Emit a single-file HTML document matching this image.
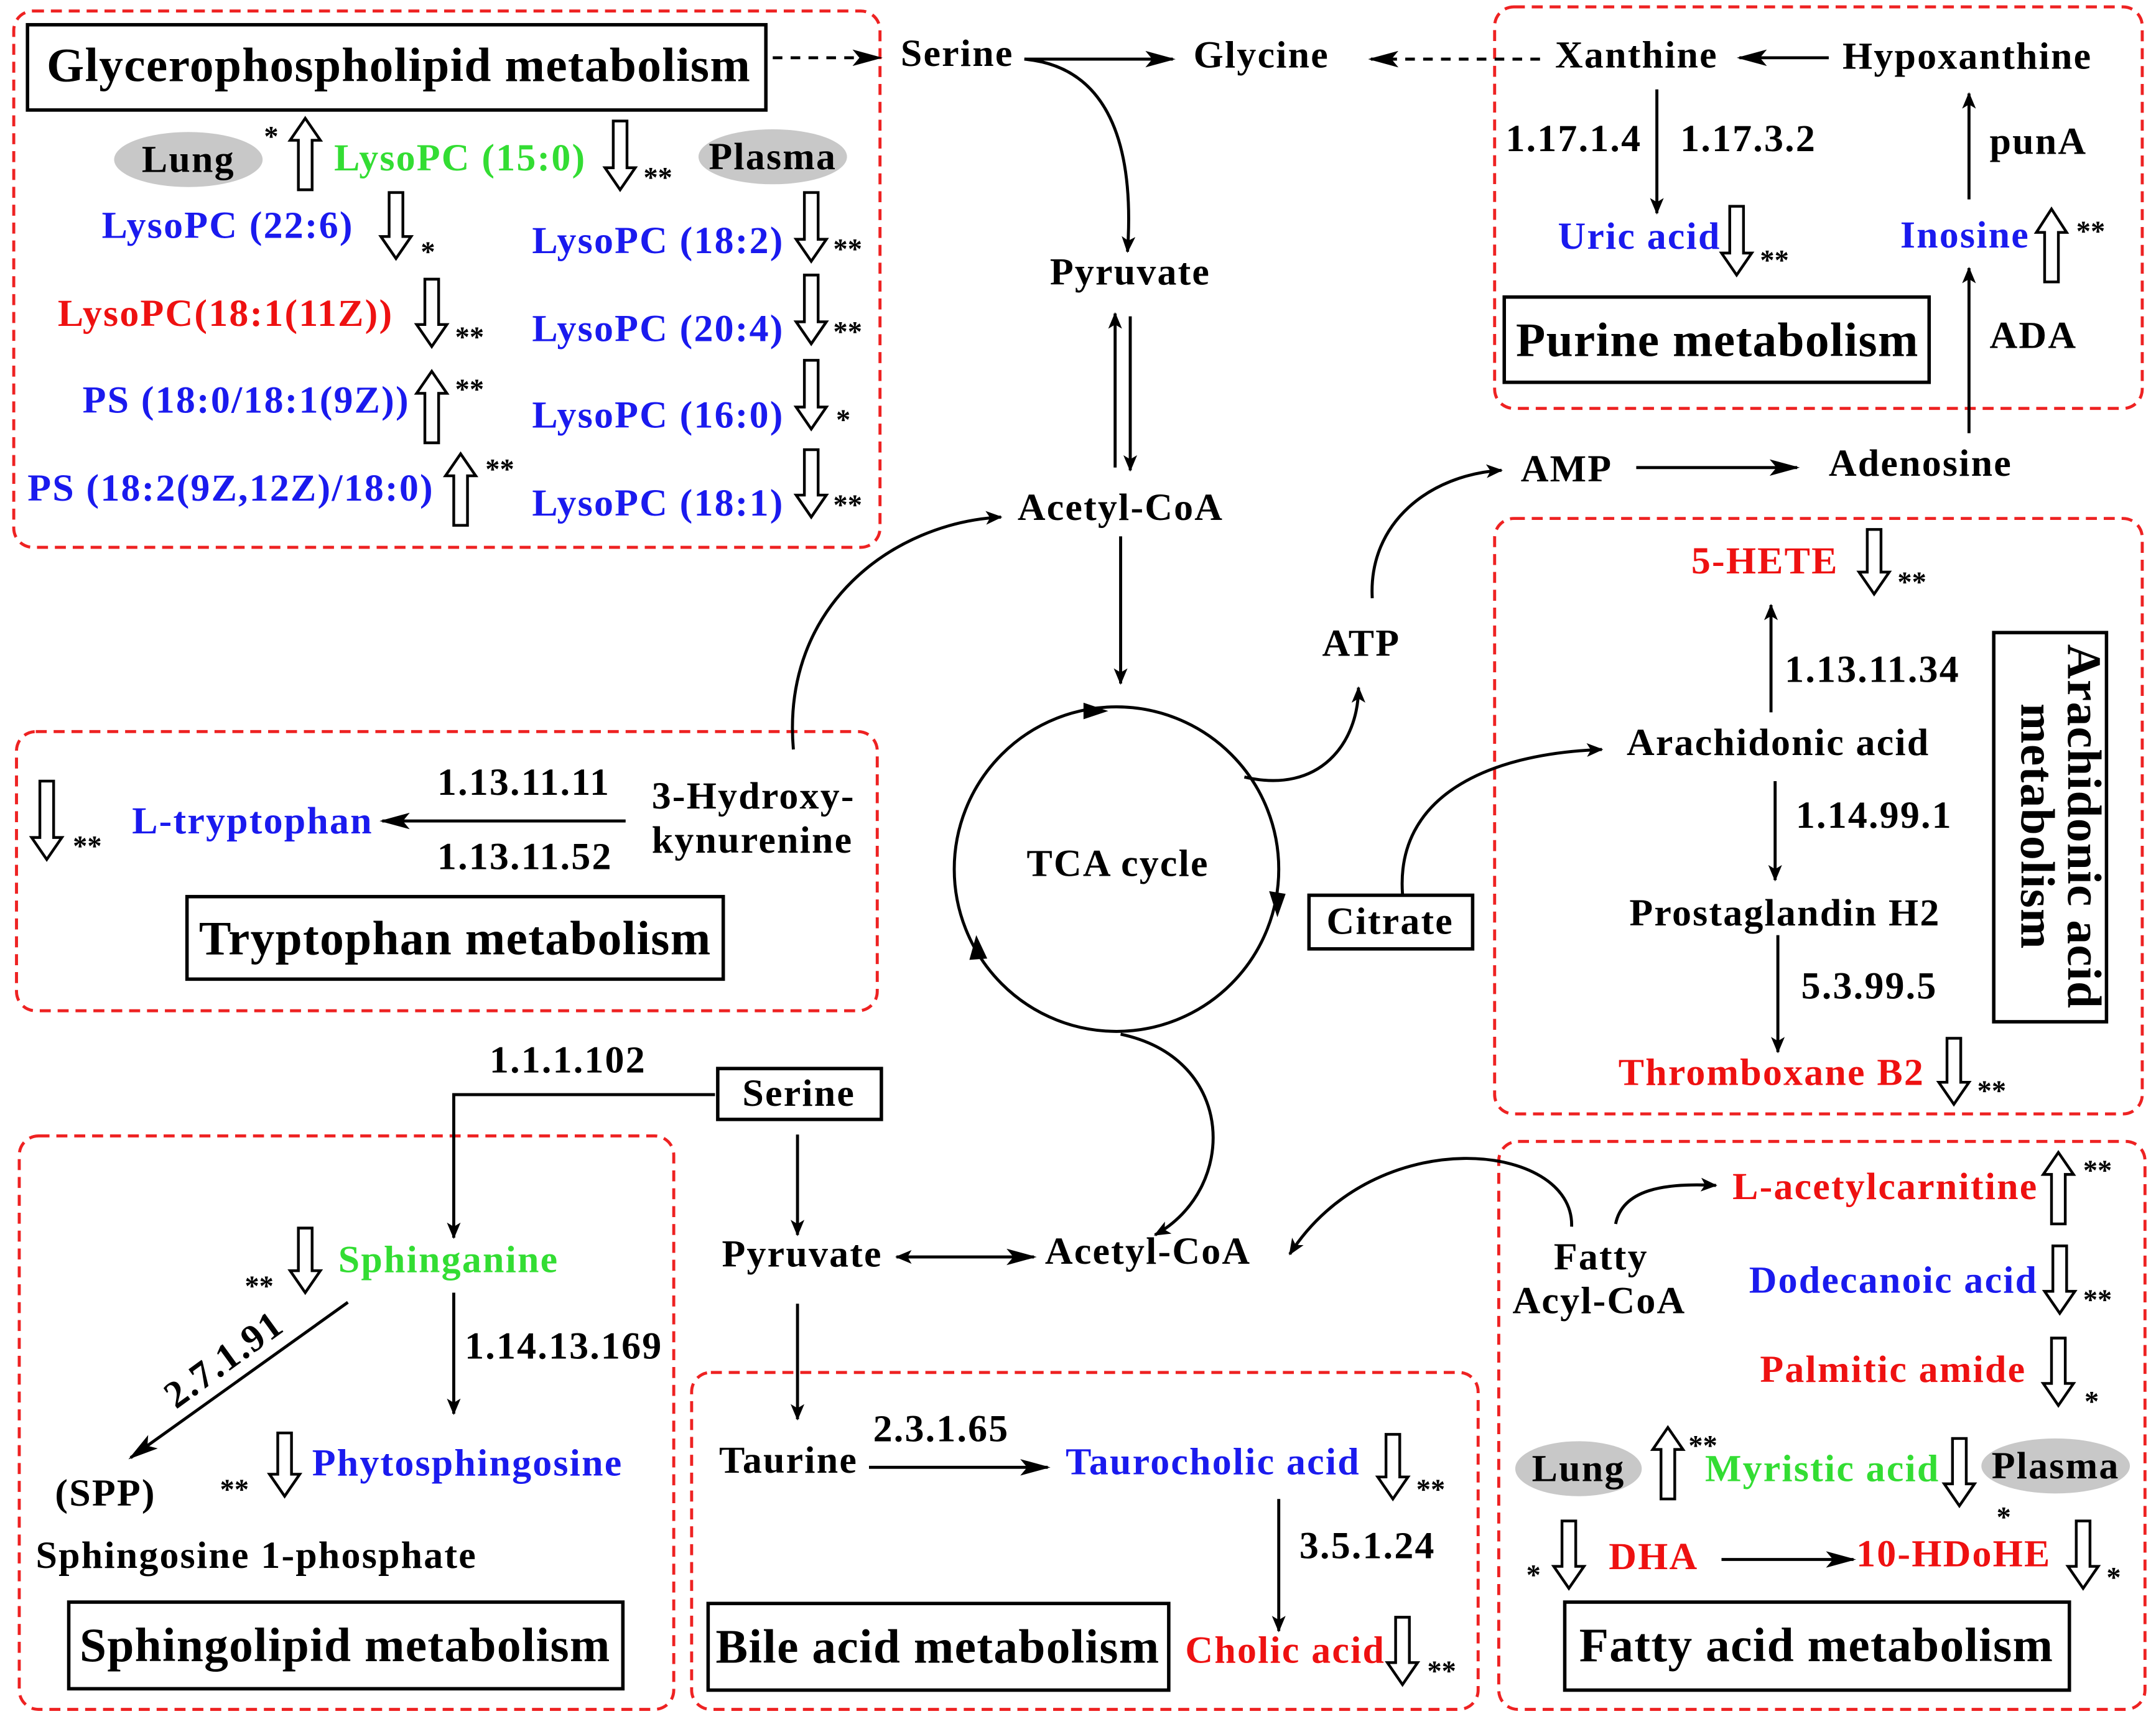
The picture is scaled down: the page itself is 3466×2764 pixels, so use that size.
<!DOCTYPE html>
<html><head><meta charset="utf-8"><style>
html,body{margin:0;padding:0;background:#fff;}
svg{display:block;}
text{font-family:"Liberation Serif",serif;font-weight:bold;font-size:28px;letter-spacing:1px;fill:#000;}
.t{font-size:35px;letter-spacing:0.6px;}
.r{fill:#ee1111;} .b{fill:#1a1aee;} .g{fill:#33dd33;}
.s{font-size:21px;letter-spacing:0;}
.rb{fill:none;stroke:#ee2222;stroke-width:2.2;stroke-dasharray:8,5;}
.bb{fill:#fff;stroke:#000;stroke-width:2.5;}
.ln{fill:none;stroke:#000;stroke-width:2.2;}
.ha{fill:#fff;stroke:#000;stroke-width:2;}
</style></head><body>
<svg width="3466" height="2764" viewBox="0 0 1568 1250" preserveAspectRatio="none" xmlns="http://www.w3.org/2000/svg">
<defs>
<marker id="a" markerWidth="12" markerHeight="10" refX="11" refY="5" orient="auto" markerUnits="userSpaceOnUse" viewBox="0 0 12 10"><path d="M0,0 L12,5 L0,10 L3,5 Z" fill="#000"/></marker>
<marker id="ab" markerWidth="12" markerHeight="10" refX="1" refY="5" orient="auto" markerUnits="userSpaceOnUse" viewBox="0 0 12 10"><path d="M12,0 L0,5 L12,10 L9,5 Z" fill="#000"/></marker>
<marker id="ba" markerWidth="22" markerHeight="12" refX="20" refY="6" orient="auto" markerUnits="userSpaceOnUse" viewBox="0 0 22 12"><path d="M0,0 L22,6 L0,12 L5,6 Z" fill="#000"/></marker>
</defs>

<!-- red dashed boxes -->
<rect class="rb" x="10" y="8" width="630" height="390" rx="14"/>
<rect class="rb" x="1087" y="5" width="471" height="292" rx="14"/>
<rect class="rb" x="12" y="532" width="626" height="203" rx="14"/>
<rect class="rb" x="1087" y="377" width="471" height="433" rx="14"/>
<rect class="rb" x="14" y="826" width="476" height="417" rx="14"/>
<rect class="rb" x="503" y="998" width="572" height="245" rx="14"/>
<rect class="rb" x="1090" y="830" width="470" height="413" rx="14"/>

<!-- black boxes -->
<rect class="bb" x="20" y="18" width="537" height="62"/><text class="t" x="290" y="59" text-anchor="middle">Glycerophospholipid metabolism</text>
<rect class="bb" x="1094" y="216" width="309" height="62"/><text class="t" x="1249" y="259" text-anchor="middle">Purine metabolism</text>
<rect class="bb" x="136" y="652" width="390" height="60"/><text class="t" x="331" y="694" text-anchor="middle">Tryptophan metabolism</text>
<rect class="bb" x="1450" y="460" width="82" height="283"/>
<text class="t" transform="translate(1504,601) rotate(90)" text-anchor="middle">Arachidonic acid</text>
<text class="t" transform="translate(1470,601) rotate(90)" text-anchor="middle">metabolism</text>
<rect class="bb" x="952" y="651" width="119" height="39"/><text x="1011" y="679" text-anchor="middle">Citrate</text>
<rect class="bb" x="522" y="777" width="119" height="37"/><text x="581" y="804" text-anchor="middle">Serine</text>
<rect class="bb" x="50" y="1165" width="403" height="63"/><text class="t" x="251" y="1208" text-anchor="middle">Sphingolipid metabolism</text>
<rect class="bb" x="515" y="1166" width="335" height="63"/><text class="t" x="682" y="1209" text-anchor="middle">Bile acid metabolism</text>
<rect class="bb" x="1138" y="1165" width="367" height="64"/><text class="t" x="1321" y="1208" text-anchor="middle">Fatty acid metabolism</text>

<!-- Glycerophospholipid content -->
<ellipse cx="137" cy="116" rx="54" ry="20" fill="#c8c8c8"/><text x="137" y="125" text-anchor="middle">Lung</text>
<ellipse cx="562" cy="114" rx="54" ry="20" fill="#c8c8c8"/><text x="562" y="123" text-anchor="middle">Plasma</text>
<text class="s" x="192" y="106">*</text>
<path class="ha" d="M217,138 L227,138 L227,102 L233,102 L222,86 L211,102 L217,102 Z"/>
<text class="g" x="243" y="124">LysoPC (15:0)</text>
<path class="ha" d="M446,88 L456,88 L456,122 L462,122 L451,138 L440,122 L446,122 Z"/><text class="s" x="468" y="136">**</text>
<text class="b" x="74" y="173">LysoPC (22:6)</text>
<path class="ha" d="M283,140 L293,140 L293,172 L299,172 L288,188 L277,172 L283,172 Z"/><text class="s" x="306" y="190">*</text>
<text class="b" x="387" y="184">LysoPC (18:2)</text>
<path class="ha" d="M585,140 L595,140 L595,174 L601,174 L590,190 L579,174 L585,174 Z"/><text class="s" x="606" y="188">**</text>
<text class="r" x="42" y="237">LysoPC(18:1(11Z))</text>
<path class="ha" d="M309,203 L319,203 L319,236 L325,236 L314,252 L303,236 L309,236 Z"/><text class="s" x="331" y="252">**</text>
<text class="b" x="387" y="248">LysoPC (20:4)</text>
<path class="ha" d="M585,200 L595,200 L595,234 L601,234 L590,250 L579,234 L585,234 Z"/><text class="s" x="606" y="248">**</text>
<text class="b" x="60" y="300">PS (18:0/18:1(9Z))</text>
<path class="ha" d="M309,322 L319,322 L319,286 L325,286 L314,270 L303,286 L309,286 Z"/><text class="s" x="331" y="290">**</text>
<text class="b" x="387" y="311">LysoPC (16:0)</text>
<path class="ha" d="M585,262 L595,262 L595,296 L601,296 L590,312 L579,296 L585,296 Z"/><text class="s" x="608" y="312">*</text>
<text class="b" x="20" y="364">PS (18:2(9Z,12Z)/18:0)</text>
<path class="ha" d="M330,382 L340,382 L340,346 L346,346 L335,330 L324,346 L330,346 Z"/><text class="s" x="353" y="348">**</text>
<text class="b" x="387" y="375">LysoPC (18:1)</text>
<path class="ha" d="M585,327 L595,327 L595,360 L601,360 L590,376 L579,360 L585,360 Z"/><text class="s" x="606" y="374">**</text>

<!-- Top row -->
<line class="ln" x1="562" y1="42" x2="640" y2="42" stroke-dasharray="7,6" marker-end="url(#ba)"/>
<text x="655" y="48">Serine</text>
<line class="ln" x1="745" y1="43" x2="853" y2="43" marker-end="url(#ba)"/>
<text x="868" y="49">Glycine</text>
<line class="ln" x1="1120" y1="43" x2="997" y2="43" stroke-dasharray="7,6" marker-end="url(#ba)"/>
<text x="1131" y="49">Xanthine</text>
<line class="ln" x1="1330" y1="42" x2="1265" y2="42" marker-end="url(#ba)"/>
<text x="1340" y="50">Hypoxanthine</text>
<path class="ln" d="M745,43 C800,48 826,95 820,183" marker-end="url(#a)"/>
<text x="822" y="207" text-anchor="middle">Pyruvate</text>
<line class="ln" x1="811" y1="340" x2="811" y2="228" marker-end="url(#a)"/>
<line class="ln" x1="822" y1="230" x2="822" y2="342" marker-end="url(#a)"/>
<text x="815" y="378" text-anchor="middle">Acetyl-CoA</text>
<line class="ln" x1="815" y1="390" x2="815" y2="497" marker-end="url(#a)"/>
<circle cx="812" cy="632" r="118" class="ln"/>
<path d="M788,511 L806,517 L788,523 Z" fill="#000"/>
<path d="M923,648 L929,667 L935,650 Z" fill="#000"/>
<path d="M705,698 L710,680 L718,697 Z" fill="#000"/>
<text x="813" y="637" text-anchor="middle">TCA cycle</text>
<path class="ln" d="M577,545 C568,440 650,380 728,376" marker-end="url(#a)"/>
<path class="ln" d="M905,565 C960,578 988,540 988,500" marker-end="url(#a)"/>
<text x="990" y="477" text-anchor="middle">ATP</text>
<path class="ln" d="M998,435 C995,380 1040,345 1092,342" marker-end="url(#a)"/>
<text x="1106" y="350">AMP</text>
<line class="ln" x1="1190" y1="340" x2="1307" y2="340" marker-end="url(#ba)"/>
<text x="1330" y="346">Adenosine</text>

<!-- Purine -->
<line class="ln" x1="1432" y1="315" x2="1432" y2="195" marker-end="url(#a)"/>
<text x="1447" y="253">ADA</text>
<text class="b" x="1382" y="180">Inosine</text>
<path class="ha" d="M1487,205 L1497,205 L1497,169 L1503,169 L1492,152 L1481,169 L1487,169 Z"/><text class="s" x="1510" y="175">**</text>
<line class="ln" x1="1432" y1="145" x2="1432" y2="68" marker-end="url(#a)"/>
<text x="1447" y="112">punA</text>
<line class="ln" x1="1205" y1="65" x2="1205" y2="155" marker-end="url(#a)"/>
<text x="1095" y="110">1.17.1.4</text>
<text x="1222" y="110">1.17.3.2</text>
<text class="b" x="1133" y="181">Uric acid</text>
<path class="ha" d="M1258,150 L1268,150 L1268,184 L1274,184 L1263,200 L1252,184 L1258,184 Z"/><text class="s" x="1280" y="196">**</text>

<!-- Arachidonic -->
<text class="r" x="1230" y="417">5-HETE</text>
<path class="ha" d="M1358,385 L1368,385 L1368,416 L1374,416 L1363,432 L1352,416 L1358,416 Z"/><text class="s" x="1380" y="430">**</text>
<line class="ln" x1="1288" y1="518" x2="1288" y2="440" marker-end="url(#a)"/>
<text x="1298" y="496">1.13.11.34</text>
<text x="1183" y="549">Arachidonic acid</text>
<line class="ln" x1="1291" y1="568" x2="1291" y2="640" marker-end="url(#a)"/>
<text x="1306" y="602">1.14.99.1</text>
<text x="1185" y="673">Prostaglandin H2</text>
<line class="ln" x1="1293" y1="680" x2="1293" y2="765" marker-end="url(#a)"/>
<text x="1310" y="726">5.3.99.5</text>
<text class="r" x="1177" y="789">Thromboxane B2</text>
<path class="ha" d="M1416,755 L1426,755 L1426,787 L1432,787 L1421,803 L1410,787 L1416,787 Z"/><text class="s" x="1438" y="800">**</text>
<path class="ln" d="M1020,650 C1015,580 1080,548 1165,545" marker-end="url(#a)"/>

<!-- Tryptophan -->
<path class="ha" d="M29,568 L39,568 L39,609 L45,609 L34,625 L23,609 L29,609 Z"/><text class="s" x="53" y="622">**</text>
<text class="b" x="96" y="606">L-tryptophan</text>
<line class="ln" x1="455" y1="597" x2="278" y2="597" marker-end="url(#ba)"/>
<text x="318" y="578">1.13.11.11</text>
<text x="318" y="632">1.13.11.52</text>
<text x="474" y="588">3-Hydroxy-</text>
<text x="474" y="620">kynurenine</text>

<!-- Sphingolipid -->
<text x="356" y="780">1.1.1.102</text>
<path class="ln" d="M520,796 L330,796 L330,900" marker-end="url(#a)"/>
<text class="s" x="178" y="942">**</text>
<path class="ha" d="M217,893 L227,893 L227,924 L233,924 L222,940 L211,924 L217,924 Z"/>
<text class="g" x="246" y="925">Sphinganine</text>
<line class="ln" x1="330" y1="940" x2="330" y2="1028" marker-end="url(#a)"/>
<text x="338" y="988">1.14.13.169</text>
<line class="ln" x1="253" y1="947" x2="95" y2="1060" marker-end="url(#ba)"/>
<text transform="translate(128,1025) rotate(-36)">2.7.1.91</text>
<text x="40" y="1095">(SPP)</text>
<text x="26" y="1140">Sphingosine 1-phosphate</text>
<text class="s" x="160" y="1090">**</text>
<path class="ha" d="M202,1042 L212,1042 L212,1072 L218,1072 L207,1088 L196,1072 L202,1072 Z"/>
<text class="b" x="227" y="1073">Phytosphingosine</text>

<!-- Center lower -->
<line class="ln" x1="580" y1="825" x2="580" y2="898" marker-end="url(#a)"/>
<text x="525" y="921">Pyruvate</text>
<line class="ln" x1="652" y1="914" x2="752" y2="914" marker-start="url(#ab)" marker-end="url(#ba)"/>
<text x="760" y="919">Acetyl-CoA</text>
<path class="ln" d="M815,752 C900,770 900,865 840,898" marker-end="url(#a)"/>
<line class="ln" x1="580" y1="948" x2="580" y2="1032" marker-end="url(#a)"/>
<text x="523" y="1071">Taurine</text>
<line class="ln" x1="632" y1="1067" x2="762" y2="1067" marker-end="url(#ba)"/>
<text x="635" y="1048">2.3.1.65</text>
<text class="b" x="775" y="1072">Taurocholic acid</text>
<path class="ha" d="M1008,1043 L1018,1043 L1018,1074 L1024,1074 L1013,1090 L1002,1074 L1008,1074 Z"/><text class="s" x="1030" y="1090">**</text>
<line class="ln" x1="930" y1="1090" x2="930" y2="1186" marker-end="url(#a)"/>
<text x="945" y="1133">3.5.1.24</text>
<text class="r" x="862" y="1209">Cholic acid</text>
<path class="ha" d="M1015,1176 L1025,1176 L1025,1209 L1031,1209 L1020,1225 L1009,1209 L1015,1209 Z"/><text class="s" x="1038" y="1222">**</text>

<!-- Fatty acid -->
<path class="ln" d="M1143,892 C1145,830 1000,815 938,912" marker-end="url(#a)"/>
<text x="1130" y="923">Fatty</text>
<text x="1100" y="955">Acyl-CoA</text>
<path class="ln" d="M1175,890 C1180,865 1210,860 1248,862" marker-end="url(#a)"/>
<text class="r" x="1260" y="872">L-acetylcarnitine</text>
<path class="ha" d="M1492,890 L1502,890 L1502,854 L1508,854 L1497,838 L1486,854 L1492,854 Z"/><text class="s" x="1515" y="858">**</text>
<text class="b" x="1272" y="940">Dodecanoic acid</text>
<path class="ha" d="M1493,906 L1503,906 L1503,939 L1509,939 L1498,955 L1487,939 L1493,939 Z"/><text class="s" x="1515" y="952">**</text>
<text class="r" x="1280" y="1005">Palmitic amide</text>
<path class="ha" d="M1492,973 L1502,973 L1502,1006 L1508,1006 L1497,1022 L1486,1006 L1492,1006 Z"/><text class="s" x="1516" y="1026">*</text>
<ellipse cx="1148" cy="1068" rx="46" ry="20" fill="#c8c8c8"/><text x="1148" y="1077" text-anchor="middle">Lung</text>
<path class="ha" d="M1208,1090 L1218,1090 L1218,1054 L1224,1054 L1213,1038 L1202,1054 L1208,1054 Z"/><text class="s" x="1228" y="1058">**</text>
<text class="g" x="1240" y="1077">Myristic acid</text>
<path class="ha" d="M1420,1046 L1430,1046 L1430,1079 L1436,1079 L1425,1095 L1414,1079 L1420,1079 Z"/>
<ellipse cx="1495" cy="1066" rx="54" ry="20" fill="#c8c8c8"/><text x="1495" y="1075" text-anchor="middle">Plasma</text>
<text class="s" x="1452" y="1110">*</text>
<text class="s" x="1110" y="1152">*</text>
<path class="ha" d="M1136,1106 L1146,1106 L1146,1139 L1152,1139 L1141,1155 L1130,1139 L1136,1139 Z"/>
<text class="r" x="1170" y="1141">DHA</text>
<line class="ln" x1="1252" y1="1134" x2="1348" y2="1134" marker-end="url(#ba)"/>
<text class="r" x="1350" y="1139">10-HDoHE</text>
<path class="ha" d="M1510,1106 L1520,1106 L1520,1139 L1526,1139 L1515,1155 L1504,1139 L1510,1139 Z"/><text class="s" x="1532" y="1154">*</text>
</svg>
</body></html>
